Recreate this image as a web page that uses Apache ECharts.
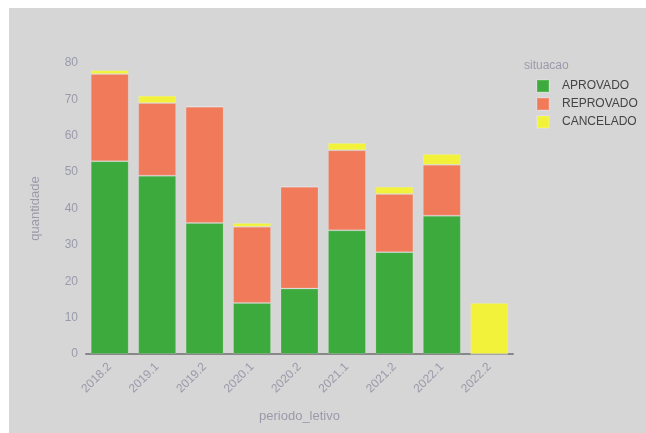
<!DOCTYPE html>
<html><head><meta charset="utf-8">
<script src="https://cdn.jsdelivr.net/npm/echarts@6/dist/echarts.min.js"></script>
<style>
html,body{margin:0;padding:0;background:#fff;width:646px;height:433px;overflow:hidden;}
#c{position:absolute;left:9px;top:8px;width:637px;height:425px;background:#d6d6d6;}
</style></head><body>
<div id="c"></div>
<script>
const categories = ['2018.2','2019.1','2019.2','2020.1','2020.2','2021.1','2021.2','2022.1','2022.2'];
const aprovado   = [53, 49, 36, 14, 18, 34, 28, 38, 0];
const reprovado  = [24, 20, 32, 21, 28, 22, 16, 14, 0];
const cancelado  = [1, 2, 0, 1, 0, 2, 2, 3, 14];
const seriesNames = ['APROVADO','REPROVADO','CANCELADO'];
const colors = ['#3daa3d','#f07a5a','#f2f23a'];

const chart = echarts.init(document.getElementById('c'), null, {renderer:'canvas'});
const labelColor = '#9a9aab';
chart.setOption({
  backgroundColor: '#d6d6d6',
  animation: false,
  grid: {left: 77, top: 55, right: 133, bottom: 79},
  legend: {
    orient: 'vertical', left: 522, top: 66,
    itemWidth: 12, itemHeight: 12, itemGap: 4,
    icon: 'rect',
    textStyle: {color: '#444', fontSize: 12, fontFamily: 'Arial, Liberation Sans', padding: [0,0,0,8]},
    data: seriesNames
  },
  graphic: [{type:'text', left: 515, top: 52, style:{text:'situacao', fill: labelColor, fontSize: 12, fontFamily:'Arial, Liberation Sans'}}],
  xAxis: {
    type: 'category', data: categories,
    name: 'periodo_letivo', nameLocation: 'middle', nameGap: 56,
    nameTextStyle: {color: labelColor, fontSize: 13, fontFamily:'Arial, Liberation Sans'},
    axisLine: {lineStyle: {color: '#888', width: 2}},
    axisTick: {show: false},
    axisLabel: {rotate: 45, color: labelColor, fontSize: 12, fontFamily:'Arial, Liberation Sans', margin: 11},
  },
  yAxis: {
    type: 'value', min: 0, max: 80, interval: 10,
    name: 'quantidade', nameLocation: 'middle', nameGap: 44,
    nameTextStyle: {color: labelColor, fontSize: 13, fontFamily:'Arial, Liberation Sans'},
    axisLine: {show: false}, axisTick: {show: false},
    splitLine: {show: false},
    axisLabel: {color: labelColor, fontSize: 12, fontFamily:'Arial, Liberation Sans', margin: 8}
  },
  series: seriesNames.map((n, i) => ({
    name: n, type: 'bar', stack: 'total',
    data: [aprovado, reprovado, cancelado][i],
    barCategoryGap: '20%',
    itemStyle: {color: colors[i], borderColor: 'rgba(255,255,255,0.15)', borderWidth: 1}
  }))
});
</script></body></html>
